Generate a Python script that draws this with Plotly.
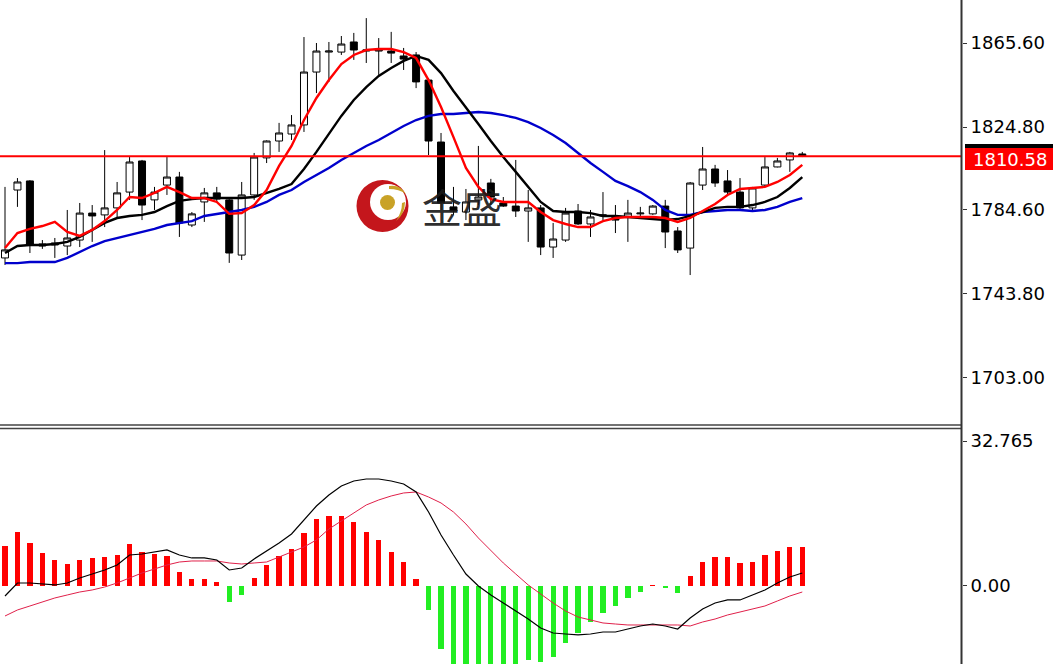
import plotly.graph_objects as go

# ---------------- data ----------------
idx = list(range(65))

open_ = [1761.2, 1794.2, 1798.6, 1768.0, 1768.5, 1767.0, 1769.9, 1783.0, 1782.1, 1785.5,
         1793.2, 1808.3, 1789.4, 1796.6, 1800.5, 1777.2, 1788.4, 1792.8, 1789.4, 1762.6,
         1791.8, 1809.8, 1818.0, 1821.4, 1825.8, 1851.5, 1861.2, 1861.2, 1866.1, 1861.7,
         1861.7, 1861.7, 1859.3, 1859.8, 1847.6, 1817.5, 1786.0, 1783.5, 1789.4, 1797.6,
         1787.9, 1786.4, 1784.0, 1785.5, 1766.5, 1769.9, 1784.0, 1777.7, 1781.6, 1781.6,
         1781.1, 1782.6, 1782.6, 1786.4, 1774.3, 1766.0, 1796.6, 1804.4, 1798.6, 1793.2,
         1785.5, 1796.6, 1805.4, 1808.8, 1811.7]

high = [1795.7, 1800.0, 1799.0, 1769.9, 1770.9, 1784.5, 1787.9, 1786.9, 1813.6, 1798.1,
        1810.2, 1808.8, 1795.7, 1810.2, 1803.0, 1783.5, 1795.2, 1795.7, 1790.3, 1798.1,
        1812.2, 1818.3, 1826.8, 1830.6, 1868.5, 1865.6, 1866.1, 1869.0, 1870.5, 1877.7,
        1868.0, 1871.0, 1863.2, 1861.2, 1848.6, 1821.9, 1795.7, 1794.7, 1815.6, 1799.6,
        1790.8, 1808.8, 1794.2, 1786.9, 1778.2, 1785.5, 1787.4, 1784.5, 1793.2, 1786.9,
        1789.4, 1786.0, 1786.9, 1789.4, 1776.2, 1798.1, 1815.1, 1806.4, 1803.9, 1800.0,
        1795.7, 1810.2, 1809.8, 1812.7, 1812.7]

low = [1757.8, 1786.0, 1763.6, 1765.6, 1761.2, 1762.6, 1766.5, 1769.0, 1776.2, 1780.6,
       1789.4, 1779.6, 1784.5, 1791.8, 1771.4, 1776.2, 1778.7, 1787.9, 1758.8, 1760.2,
       1789.4, 1807.3, 1812.7, 1818.5, 1822.4, 1841.3, 1846.7, 1859.8, 1857.4, 1855.9,
       1850.1, 1855.9, 1852.5, 1843.7, 1811.2, 1784.5, 1782.1, 1779.6, 1786.9, 1786.9,
       1786.0, 1781.1, 1769.0, 1762.6, 1761.2, 1769.0, 1777.2, 1771.4, 1779.6, 1773.3,
       1769.0, 1780.6, 1782.1, 1766.0, 1763.6, 1752.9, 1794.2, 1795.7, 1791.8, 1784.5,
       1784.5, 1795.7, 1805.2, 1803.0, 1810.2]

close = [1765.1, 1798.1, 1767.5, 1767.0, 1767.5, 1770.9, 1783.0, 1781.6, 1785.5, 1792.8,
         1807.8, 1786.9, 1793.2, 1800.5, 1778.2, 1782.6, 1792.8, 1789.8, 1763.6, 1791.8,
         1810.2, 1818.0, 1821.9, 1825.8, 1851.5, 1861.7, 1861.7, 1865.1, 1862.2, 1862.2,
         1862.2, 1860.7, 1857.8, 1846.7, 1818.0, 1787.9, 1784.0, 1788.4, 1790.8, 1790.8,
         1786.4, 1784.0, 1785.5, 1766.5, 1770.4, 1783.0, 1777.7, 1781.1, 1782.1, 1779.6,
         1783.0, 1783.0, 1786.4, 1773.8, 1765.1, 1797.6, 1804.4, 1797.6, 1793.2, 1785.5,
         1795.2, 1805.4, 1808.3, 1812.2, 1810.58]

ma_fast = [1766.0, 1773.3, 1775.3, 1776.7, 1778.7, 1773.8, 1771.9, 1774.8, 1779.1, 1784.5,
           1790.8, 1790.3, 1792.8, 1795.7, 1793.2, 1790.3, 1790.3, 1788.4, 1782.6, 1783.0,
           1786.9, 1794.2, 1805.9, 1815.6, 1828.2, 1838.9, 1847.6, 1855.4, 1859.8, 1862.2,
           1862.7, 1862.7, 1861.2, 1858.3, 1847.6, 1834.5, 1819.9, 1804.9, 1795.7, 1789.8,
           1788.4, 1788.4, 1788.4, 1783.5, 1779.6, 1777.7, 1776.2, 1776.2, 1779.1, 1780.6,
           1781.1, 1781.1, 1781.1, 1780.6, 1778.7, 1780.6, 1784.0, 1787.4, 1791.8, 1794.7,
           1795.2, 1795.7, 1798.1, 1801.5, 1806.4]

ma_mid = [1763.6, 1767.0, 1767.5, 1767.5, 1768.0, 1769.0, 1771.4, 1774.8, 1778.2, 1780.6,
          1781.6, 1782.1, 1783.5, 1786.4, 1788.9, 1789.8, 1790.3, 1790.3, 1790.3, 1790.3,
          1790.8, 1792.8, 1794.7, 1797.1, 1804.4, 1812.7, 1821.4, 1830.2, 1837.9, 1844.2,
          1849.6, 1853.5, 1856.9, 1859.3, 1857.4, 1851.0, 1842.3, 1834.5, 1826.3, 1818.0,
          1810.2, 1803.0, 1795.7, 1788.4, 1784.0, 1783.5, 1783.5, 1783.0, 1781.6, 1781.6,
          1781.1, 1780.6, 1780.1, 1779.6, 1780.1, 1781.6, 1783.5, 1785.5, 1786.0, 1786.0,
          1786.9, 1788.4, 1790.8, 1795.2, 1800.5]

ma_slow = [1758.7, 1758.7, 1759.2, 1759.2, 1759.2, 1761.2, 1764.1, 1767.0, 1769.4, 1770.9,
           1772.3, 1773.8, 1775.3, 1777.2, 1778.2, 1779.1, 1781.6, 1782.6, 1783.5, 1784.5,
           1786.0, 1788.4, 1791.8, 1794.2, 1798.1, 1801.5, 1804.9, 1808.8, 1812.2, 1815.6,
           1818.5, 1821.9, 1825.3, 1828.2, 1830.2, 1831.1, 1831.1, 1831.6, 1832.1, 1831.6,
           1830.6, 1829.2, 1827.2, 1824.3, 1820.9, 1817.0, 1812.2, 1807.3, 1803.0, 1798.6,
           1796.1, 1793.2, 1789.4, 1784.5, 1782.1, 1782.1, 1783.5, 1784.0, 1784.5, 1784.5,
           1784.0, 1784.5, 1786.0, 1788.4, 1790.3]

macd_line = [-2.26, 0.68, 0.68, 0.45, 0.23, 0.68, 1.81, 2.71, 3.62, 4.75,
             7.01, 7.23, 7.68, 8.14, 7.01, 6.33, 6.33, 5.88, 3.62, 4.07,
             6.10, 7.91, 9.72, 11.75, 14.92, 18.08, 20.57, 22.60, 23.73, 24.18,
             24.18, 23.73, 23.05, 21.24, 16.72, 11.53, 7.01, 2.71, 0.00, -2.03,
             -3.84, -5.65, -7.46, -9.49, -10.62, -10.85, -11.07, -10.85, -10.40, -10.40,
             -9.72, -9.04, -8.59, -9.04, -9.72, -7.23, -5.20, -3.84, -3.16, -3.16,
             -2.03, -0.90, 0.68, 2.03, 2.94]

signal_line = [-6.78, -5.42, -4.52, -3.62, -2.71, -2.03, -1.36, -0.90, -0.23, 0.68,
               1.81, 2.94, 3.84, 4.75, 5.42, 5.65, 5.65, 5.65, 5.20, 4.97,
               5.20, 5.42, 6.55, 7.68, 8.81, 10.40, 12.88, 14.69, 16.50, 18.31,
               19.44, 20.34, 21.02, 21.24, 20.11, 18.76, 16.72, 14.01, 10.85, 7.91,
               5.20, 2.71, 0.23, -1.81, -3.84, -5.65, -7.01, -7.68, -8.36, -8.59,
               -8.81, -8.81, -8.81, -8.81, -8.81, -9.04, -8.14, -7.46, -6.55, -5.88,
               -5.20, -4.52, -3.39, -2.26, -1.36]

macd_hist = [9.04, 12.27, 9.65, 7.39, 5.88, 4.97, 5.88, 6.26, 6.48, 7.00,
             9.42, 7.60, 7.16, 6.78, 3.24, 1.50, 1.50, 0.98, -3.54, -2.03,
             1.73, 4.75, 6.78, 8.29, 12.05, 15.07, 15.82, 15.82, 14.39, 12.27,
             10.39, 7.68, 5.50, 1.58, -5.42, -14.30, -19.50, -22.00, -21.50, -20.50,
             -19.00, -18.00, -16.70, -17.10, -16.10, -12.80, -10.70, -8.06, -6.03, -4.52,
             -2.79, -1.28, 0.15, -0.53, -1.66, 2.26, 5.50, 6.63, 6.63, 5.27,
             5.50, 7.00, 7.98, 8.74, 8.74]

last_price = 1810.58
price_ticks = [1865.60, 1824.80, 1784.60, 1743.80, 1703.00]
price_tick_text = ["1865.60", "1824.80", "1784.60", "1743.80", "1703.00"]
macd_ticks = [32.765, 0.0]
macd_tick_text = ["32.765", "0.00"]
logo_text = "金盛"

# ---------------- layout helpers (pixel -> paper, decoration only) ----------------
W, H = 1053, 664
PLOT_RIGHT = 962
MAIN_BOTTOM = 422
MACD_TOP = 430


def px(x):
    return x / W


def py(y):
    return 1 - y / H


FONT = "DejaVu Sans"

fig = go.Figure()

fig.add_trace(go.Candlestick(
    x=idx, open=open_, high=high, low=low, close=close,
    increasing=dict(line=dict(color="black", width=1), fillcolor="white"),
    decreasing=dict(line=dict(color="black", width=1), fillcolor="black"),
    whiskerwidth=0, xaxis="x", yaxis="y", hoverinfo="skip", showlegend=False))

fig.add_trace(go.Scatter(x=idx, y=ma_slow, mode="lines",
                         line=dict(color="#0000CC", width=2.4), xaxis="x", yaxis="y"))
fig.add_trace(go.Scatter(x=idx, y=ma_mid, mode="lines",
                         line=dict(color="#000000", width=2.4), xaxis="x", yaxis="y"))
fig.add_trace(go.Scatter(x=idx, y=ma_fast, mode="lines",
                         line=dict(color="#FF0000", width=2.4), xaxis="x", yaxis="y"))

hist_colors = ["#FF0000" if v >= 0 else "#22EE22" for v in macd_hist]
fig.add_trace(go.Bar(x=idx, y=macd_hist, width=0.42, marker=dict(color=hist_colors, line=dict(width=0)),
                     xaxis="x2", yaxis="y2"))
fig.add_trace(go.Scatter(x=idx, y=signal_line, mode="lines",
                         line=dict(color="#E0204A", width=1), xaxis="x2", yaxis="y2"))
fig.add_trace(go.Scatter(x=idx, y=macd_line, mode="lines",
                         line=dict(color="#000000", width=1.2), xaxis="x2", yaxis="y2"))

xr = [-0.401, 76.82]
axis_font = dict(family=FONT, size=18, color="#000000")

shapes = [
    # last price line
    dict(type="line", xref="paper", yref="y", x0=0, x1=px(PLOT_RIGHT), y0=last_price, y1=last_price,
         line=dict(color="#FF0000", width=2), layer="above"),
    # panel separator (double line)
    dict(type="line", xref="paper", yref="paper", x0=0, x1=px(PLOT_RIGHT), y0=py(425), y1=py(425),
         line=dict(color="#444444", width=1.5)),
    dict(type="line", xref="paper", yref="paper", x0=0, x1=px(PLOT_RIGHT), y0=py(428.5), y1=py(428.5),
         line=dict(color="#444444", width=1.5)),
    # right axis line
    dict(type="line", xref="paper", yref="paper", x0=px(961.5), x1=px(961.5), y0=0, y1=1,
         line=dict(color="#333333", width=2)),
    # price label boxes
    dict(type="rect", xref="paper", yref="paper", x0=px(965), x1=1, y0=py(148), y1=py(144),
         line=dict(width=0), fillcolor="#000000"),
    dict(type="rect", xref="paper", yref="paper", x0=px(965), x1=1, y0=py(170), y1=py(148),
         line=dict(width=0), fillcolor="#FF0000"),
    # logo
    dict(type="circle", xref="paper", yref="paper", x0=px(356.5), x1=px(408.5), y0=py(232), y1=py(180),
         line=dict(width=0), fillcolor="#C4161C", layer="above"),
    dict(type="circle", xref="paper", yref="paper", x0=px(370), x1=px(406), y0=py(220), y1=py(184),
         line=dict(width=0), fillcolor="#FFFFFF", layer="above"),
    dict(type="circle", xref="paper", yref="paper", x0=px(380), x1=px(395), y0=py(210), y1=py(195),
         line=dict(width=0), fillcolor="#C9A227", layer="above"),
    dict(type="path", xref="paper", yref="paper", layer="above", line=dict(width=0), fillcolor="#C9A227",
         path=f"M {px(389)} {py(186)} Q {px(400)} {py(184)} {px(406)} {py(194)} Q {px(399)} {py(189)} {px(389)} {py(189)} Z"),
    dict(type="path", xref="paper", yref="paper", layer="above", line=dict(width=0), fillcolor="#C9A227",
         path=f"M {px(405)} {py(202)} Q {px(405)} {py(214)} {px(396)} {py(221)} Q {px(402)} {py(212)} {px(402)} {py(203)} Z"),
]

annotations = [
    dict(xref="paper", yref="paper", x=px(1010), y=py(159), text=f"{last_price:.2f}", showarrow=False,
         font=dict(family=FONT, size=18, color="#FFFFFF"), xanchor="center", yanchor="middle"),
    dict(xref="paper", yref="paper", x=px(462), y=py(206), text=logo_text, showarrow=False,
         font=dict(family="Noto Sans CJK SC", size=40, color="rgba(25,25,25,0.92)"),
         xanchor="center", yanchor="middle"),
]

fig.update_layout(
    width=W, height=H, margin=dict(l=0, r=0, t=0, b=0),
    paper_bgcolor="white", plot_bgcolor="white", showlegend=False, hovermode=False,
    boxgap=0.2, boxgroupgap=0.3, bargap=0,
    xaxis=dict(domain=[0, px(PLOT_RIGHT)], range=xr, visible=False, anchor="y",
               rangeslider=dict(visible=False), fixedrange=True),
    xaxis2=dict(domain=[0, px(PLOT_RIGHT)], range=xr, visible=False, anchor="y2", fixedrange=True),
    yaxis=dict(domain=[py(MAIN_BOTTOM), 1], range=[1681.52, 1886.49], side="right", anchor="x",
               tickmode="array", tickvals=price_ticks, ticktext=price_tick_text,
               ticks="outside", ticklen=4, tickwidth=1, tickcolor="#333333",
               showgrid=False, zeroline=False, showline=False, tickfont=axis_font, fixedrange=True),
    yaxis2=dict(domain=[0, py(MACD_TOP)], range=[-17.63, 35.25], side="right", anchor="x2",
                tickmode="array", tickvals=macd_ticks, ticktext=macd_tick_text,
                ticks="outside", ticklen=4, tickwidth=1, tickcolor="#333333",
                showgrid=False, zeroline=False, showline=False, tickfont=axis_font, fixedrange=True),
    shapes=shapes, annotations=annotations,
)

fig.write_html("out.html", config={"displayModeBar": False, "staticPlot": True},
               post_script="document.body.style.margin='0px';document.body.style.padding='0px';")
